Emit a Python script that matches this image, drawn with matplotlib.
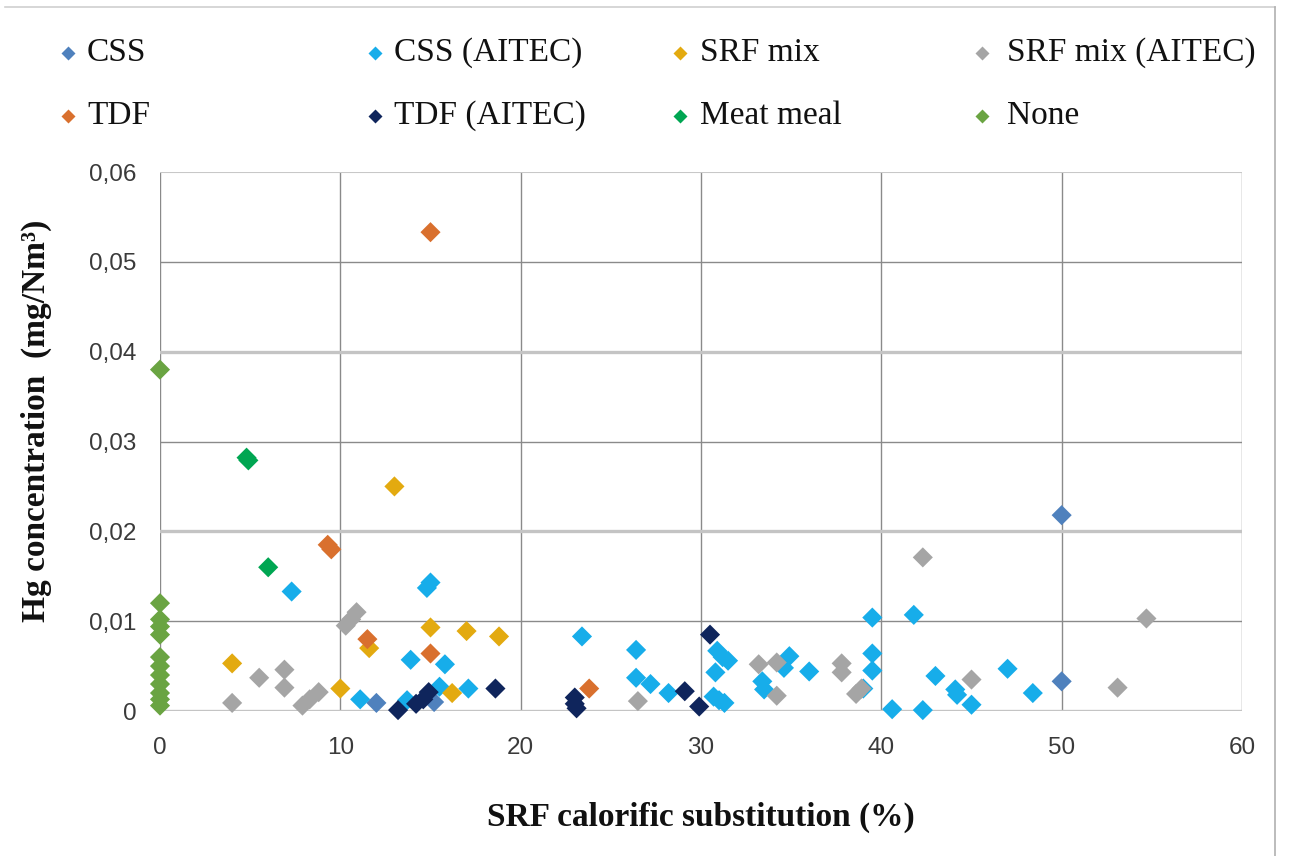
import matplotlib
matplotlib.use("Agg")
import matplotlib.pyplot as plt
from matplotlib.lines import Line2D

# ---- data ----
css_x = [12.0, 15.2, 50.0, 50.0]
css_y = [0.0009, 0.0010, 0.0218, 0.0033]

css_aitec_x = [7.3, 14.8, 15.0, 13.9, 15.8, 11.1, 15.5, 17.1, 13.7, 23.4, 26.4, 26.4,
               27.2, 28.2, 30.9, 31.2, 31.5, 30.8, 30.7, 31.0, 31.3, 33.4, 33.5, 34.9,
               34.6, 36.0, 39.5, 39.5, 39.5, 39.0, 40.6, 41.8, 42.3, 43.0, 44.1, 44.2,
               45.0, 47.0, 48.4]
css_aitec_y = [0.0133, 0.0137, 0.0143, 0.0057, 0.0052, 0.0013, 0.0027, 0.0025, 0.0012,
               0.0083, 0.0068, 0.0037, 0.0030, 0.0020, 0.0067, 0.0060, 0.0056, 0.0043,
               0.0016, 0.0012, 0.0009, 0.0033, 0.0024, 0.0061, 0.0048, 0.0044, 0.0104,
               0.0064, 0.0045, 0.0025, 0.0002, 0.0107, 0.0001, 0.0039, 0.0024, 0.0018,
               0.0007, 0.0047, 0.0020]

srf_x = [13.0, 4.0, 10.0, 11.6, 15.0, 17.0, 18.8, 16.2]
srf_y = [0.0250, 0.0053, 0.0025, 0.0070, 0.0093, 0.0089, 0.0083, 0.0020]

srf_aitec_x = [4.0, 5.5, 6.9, 6.9, 7.9, 8.3, 8.8, 10.3, 10.6, 10.9, 26.5, 33.2, 34.2,
               34.2, 37.8, 37.8, 38.6, 38.9, 42.3, 45.0, 53.1, 54.7]
srf_aitec_y = [0.0009, 0.0037, 0.0046, 0.0026, 0.0006, 0.0013, 0.0021, 0.0095, 0.0102,
               0.0110, 0.0011, 0.0052, 0.0054, 0.0017, 0.0053, 0.0043, 0.0019, 0.0025,
               0.0171, 0.0035, 0.0026, 0.0103]

tdf_x = [15.0, 9.3, 9.5, 11.5, 15.0, 23.8]
tdf_y = [0.0533, 0.0185, 0.0180, 0.0080, 0.0064, 0.0025]

tdf_aitec_x = [13.2, 14.2, 14.6, 14.9, 18.6, 23.0, 23.0, 23.1, 29.1, 29.9, 30.5]
tdf_aitec_y = [0.0001, 0.0008, 0.0013, 0.0021, 0.0025, 0.0015, 0.0008, 0.0003,
               0.0022, 0.0005, 0.0085]

meat_x = [4.8, 4.9, 6.0]
meat_y = [0.0282, 0.0279, 0.0160]

none_x = [0, 0, 0, 0, 0, 0, 0, 0, 0, 0, 0, 0]
none_y = [0.0380, 0.0120, 0.0102, 0.0094, 0.0085, 0.0060, 0.0050, 0.0040,
          0.0030, 0.0020, 0.0013, 0.0006]

series = [
    ("CSS", css_x, css_y, "#4F81BD"),
    ("CSS (AITEC)", css_aitec_x, css_aitec_y, "#17ADEA"),
    ("SRF mix", srf_x, srf_y, "#E3AA10"),
    ("SRF mix (AITEC)", srf_aitec_x, srf_aitec_y, "#A5A5A5"),
    ("TDF", tdf_x, tdf_y, "#D9702E"),
    ("TDF (AITEC)", tdf_aitec_x, tdf_aitec_y, "#0F255C"),
    ("Meat meal", meat_x, meat_y, "#00A652"),
    ("None", none_x, none_y, "#6AA442"),
]

xticks = [0, 10, 20, 30, 40, 50, 60]
yticks = [0, 0.01, 0.02, 0.03, 0.04, 0.05, 0.06]
ytick_labels = ["0", "0,01", "0,02", "0,03", "0,04", "0,05", "0,06"]

W, H = 1289, 856
fig = plt.figure(figsize=(W / 100, H / 100), dpi=100)
ax = fig.add_axes([160 / W, 1 - 711 / H, (1242 - 160) / W, (711 - 172) / H])

ax.set_xlim(0, 60)
ax.set_ylim(0, 0.06)

# grid
for xv in xticks:
    ax.axvline(xv, color="#8a8a8a", lw=1.0, zorder=1)
for yv in yticks:
    if yv in (0, 0.02, 0.04):
        ax.axhline(yv, color="#c4c4c4", lw=2.4, zorder=1)
    elif yv == 0.06:
        ax.axhline(yv, color="#c8c8c8", lw=1.5, zorder=1)
    else:
        ax.axhline(yv, color="#8a8a8a", lw=1.0, zorder=1)

for s in ax.spines.values():
    s.set_visible(False)

for name, xs, ys, col in series:
    ax.scatter(xs, ys, marker="D", s=105, color=col, edgecolors="none",
               zorder=3, clip_on=False)

ax.set_xticks(xticks)
ax.set_xticklabels([str(v) for v in xticks])
ax.set_yticks(yticks)
ax.set_yticklabels(ytick_labels)
ax.tick_params(axis="both", length=0, labelsize=17.5, colors="#3a3a3a")
ax.tick_params(axis="y", pad=17)
ax.tick_params(axis="x", pad=19)
for lab in ax.get_xticklabels() + ax.get_yticklabels():
    lab.set_fontfamily("Liberation Sans")

ax.set_xlabel("SRF calorific substitution (%)", fontfamily="Liberation Serif",
              fontweight="bold", fontsize=24, color="#111111")
ax.xaxis.set_label_coords(0.5, -(802 - 711) / (711 - 172), transform=ax.transAxes)
ax.set_ylabel("Hg concentration  (mg/Nm\u00b3)", fontfamily="Liberation Serif",
              fontweight="bold", fontsize=24, color="#111111")
ax.yaxis.set_label_coords((52 - 160) / (1242 - 160), (711 - 421) / (711 - 172),
                          transform=ax.transAxes)

# legend drawn manually (row-major layout)
mk_x = [68, 375, 680, 982]
tx_x = [87, 394, 700, 1007]
rows_y = [53, 116]
for i, (name, xs, ys, col) in enumerate(series):
    r, c = divmod(i, 4)
    fx = mk_x[c] / W
    fy = 1 - rows_y[r] / H
    fig.add_artist(Line2D([fx], [fy], marker="D", markersize=7.5, color=col,
                          markeredgecolor="none", linestyle="none",
                          transform=fig.transFigure))
    fig.text(tx_x[c] / W, fy, name, fontfamily="Liberation Serif", fontsize=24,
             color="#111111", va="center", ha="left")

# outer frame (top and right edges visible)
fig.add_artist(Line2D([5 / W, 1275 / W], [1 - 7 / H, 1 - 7 / H], color="#d0d0d0",
                      lw=1.2, transform=fig.transFigure))
fig.add_artist(Line2D([1275 / W, 1275 / W], [0, 1 - 7 / H], color="#b0b0b0",
                      lw=1.2, transform=fig.transFigure))

fig.savefig("out.png", dpi=100)
